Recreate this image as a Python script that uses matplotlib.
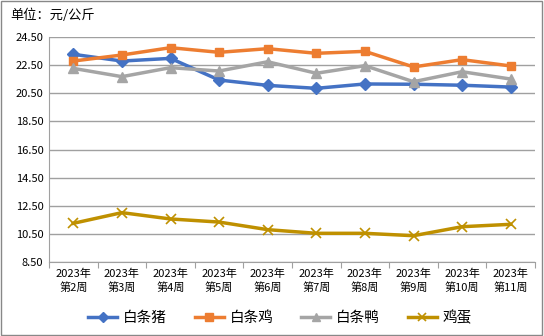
import numpy as np
import matplotlib.pyplot as plt

plt.rcParams['font.family'] = ['Noto Sans CJK SC', 'DejaVu Sans']

# =========================================================
# data
# =========================================================
weeks = ["2023年\n第2周", "2023年\n第3周", "2023年\n第4周", "2023年\n第5周",
         "2023年\n第6周", "2023年\n第7周", "2023年\n第8周", "2023年\n第9周",
         "2023年\n第10周", "2023年\n第11周"]
pork = [23.27, 22.79, 22.98, 21.44, 21.06, 20.85, 21.16, 21.14, 21.07, 20.94]
chicken = [22.79, 23.22, 23.74, 23.41, 23.67, 23.34, 23.48, 22.37, 22.89, 22.44]
duck = [22.27, 21.68, 22.32, 22.08, 22.74, 21.92, 22.46, 21.32, 22.03, 21.51]
egg = [11.25, 12.01, 11.56, 11.34, 10.80, 10.54, 10.54, 10.37, 11.01, 11.18]
yticks = [8.5, 10.5, 12.5, 14.5, 16.5, 18.5, 20.5, 22.5, 24.5]

# =========================================================
# plotting
# =========================================================
fig = plt.figure(figsize=(5.44, 3.36), dpi=100)
ax = fig.add_axes([49 / 544, 1 - 262 / 336, 486 / 544, 225 / 336])

x = np.arange(len(weeks))
ax.plot(x, pork, color='#4472C4', lw=2.5, marker='D', ms=6, label='白条猪')
ax.plot(x, chicken, color='#ED7D31', lw=2.5, marker='s', ms=6, label='白条鸡')
ax.plot(x, duck, color='#A5A5A5', lw=2.5, marker='^', ms=7, label='白条鸭')
ax.plot(x, egg, color='#BF9000', lw=2.5, marker='x', ms=7, mew=1.2, label='鸡蛋')

ax.set_ylim(8.5, 24.5)
ax.set_yticks(yticks)
ax.set_yticklabels(["%.2f" % v for v in yticks], fontsize=8)
ax.yaxis.grid(True, color='#a0a0a0', lw=1)
ax.set_axisbelow(True)
ax.tick_params(axis='y', length=0, pad=4)

ax.set_xlim(-0.5, len(weeks) - 0.5)
ax.set_xticks(np.arange(-0.5, len(weeks)), [])
ax.set_xticks(x, weeks, minor=True, fontsize=8)
ax.tick_params(axis='x', which='major', length=4, color='#a0a0a0')
ax.tick_params(axis='x', which='minor', length=0, pad=5)
for lbl in ax.get_xticklabels(minor=True):
    lbl.set_linespacing(1.3)

for s in ['top', 'right']:
    ax.spines[s].set_visible(False)
ax.spines['left'].set_color('#a0a0a0')
ax.spines['bottom'].set_color('#a0a0a0')

fig.text(10 / 544, 1 - 15 / 336, "单位：元/公斤", fontsize=9.5, va='center')
fig.legend(loc='center', bbox_to_anchor=(280 / 544, 1 - 318 / 336), ncol=4,
           frameon=False, fontsize=10.5, handlelength=2.0, columnspacing=1.9,
           handletextpad=0.4, markerscale=0.9)

# border around the whole figure
fig.patches.append(plt.Rectangle((0.002, 0.003), 0.995, 0.994, transform=fig.transFigure,
                                 fill=False, edgecolor='#888888', lw=1))

plt.savefig('out.png', dpi=100)
